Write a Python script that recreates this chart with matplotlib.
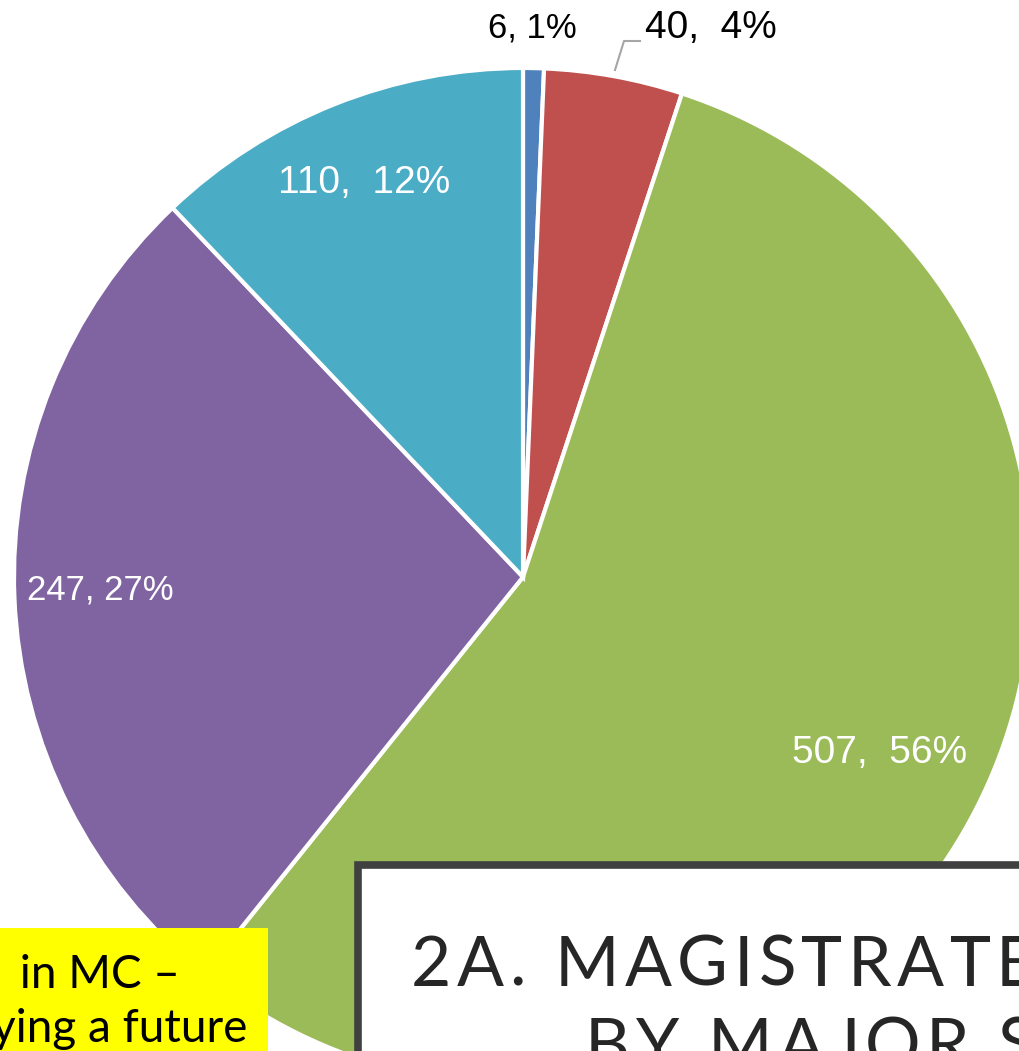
import matplotlib.pyplot as plt
from matplotlib.patches import Rectangle
import numpy as np

W, H = 1019, 1051

# slice data (clockwise from 12 o'clock)
values = [6, 40, 507, 247, 110]
colors = ["#4F81BD", "#C0504D", "#9BBB59", "#8064A2", "#4BACC6"]
label_text = ["6, 1%", "40,  4%", "507,  56%", "247, 27%", "110,  12%"]
label_color = ["black", "black", "white", "white", "white"]
label_size = [25, 28, 28, 25, 28]
# where each label sits (pixels, from top left)
label_xy = [(532, 28), (711, 28), (880, 753), (100, 590), (364, 183)]

title_1 = "2A. MAGISTRATE"
title_2 = "BY MAJOR S"
note_1 = " in MC \u2013"
note_2 = "ying a future"

fig = plt.figure(figsize=(W / 100, H / 100), dpi=100)
ax = fig.add_axes([0, 0, 1, 1])

# the pie, centre and radius in pixels
cx, cy, r = 523, H - 577, 509
ax.pie(values, colors=colors, startangle=90, counterclock=False,
       center=(cx, cy), radius=r, frame=True,
       wedgeprops=dict(edgecolor="white", linewidth=3))
ax.set_xlim(0, W)
ax.set_ylim(0, H)
ax.set_aspect("equal")
ax.axis("off")

for txt, col, fs, (x, y) in zip(label_text, label_color, label_size, label_xy):
    ax.text(x, H - y, txt, color=col, fontsize=fs, family="Liberation Sans",
            ha="center", va="center")

# leader line for the small red slice
ax.plot([615, 624, 640], [H - 70, H - 41, H - 41], color="#A6A6A6", lw=1.5)

# yellow note box, cut off by the frame
ax.add_patch(Rectangle((0, 0), 268, H - 928, facecolor="#FFFF00",
                       edgecolor="none", zorder=5))
ax.text(8, H - 988, note_1, fontsize=33, family="Lato", color="black",
        ha="left", va="baseline", zorder=6)
ax.text(-8, H - 1042, note_2, fontsize=33, family="Lato", color="black",
        ha="left", va="baseline", zorder=6)

# title box
ax.add_patch(Rectangle((358, -20), 800, H - 862 + 20 - 3, facecolor="white",
                       edgecolor="#404040", linewidth=5.5, zorder=5))

renderer = fig.canvas.get_renderer()


def tracked(x, y, s, gap, **kw):
    # draw a string letter by letter with extra spacing
    for ch in s:
        t = ax.text(x, y, ch, ha="left", va="baseline", zorder=6, **kw)
        w = t.get_window_extent(renderer).width
        if ch == " ":
            w = kw["fontsize"] * 0.35
        x += w + gap


tracked(411, H - 986, title_1, 5.5, fontsize=50, family="Lato",
        color="#262626")
tracked(585, H - 1068, title_2, 5.5, fontsize=50, family="Lato",
        color="#262626")

fig.savefig("out.png", dpi=100)
